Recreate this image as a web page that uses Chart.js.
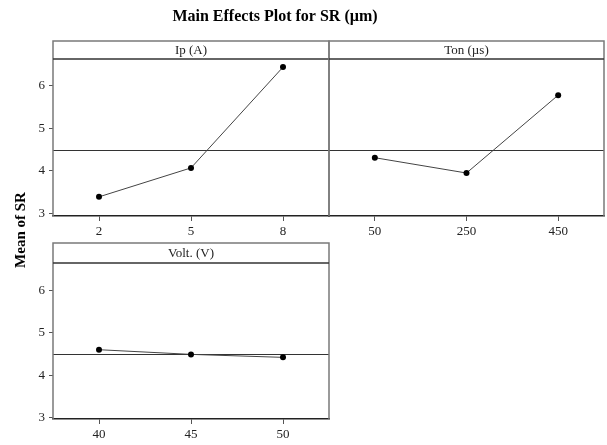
<!DOCTYPE html>
<html><head><meta charset="utf-8">
<script src="https://cdn.jsdelivr.net/npm/chart.js@4.4.1/dist/chart.umd.min.js"></script>
<style>
html,body{margin:0;padding:0;background:#fff;}
#wrap{position:relative;width:607px;height:445px;overflow:hidden;}
#wrap canvas{position:absolute;left:0;top:0;}
</style></head><body>
<div id="wrap">
<canvas id="c1" width="607" height="445"></canvas>
<canvas id="c2" width="607" height="445"></canvas>
<canvas id="c3" width="607" height="445"></canvas>
</div>
<script>
const chartTitle = 'Main Effects Plot for SR (\u00b5m)';
const yAxisLabel = 'Mean of SR';
const factorNames = ['Ip (A)', 'Ton (\u00b5s)', 'Volt. (V)'];
const ipLevels = ['2', '5', '8'];
const tonLevels = ['50', '250', '450'];
const voltLevels = ['40', '45', '50'];
const ipMeans = [3.39, 4.07, 6.44];
const tonMeans = [4.31, 3.95, 5.78];
const voltMeans = [4.60, 4.49, 4.42];
const grandMean = 4.49;
const yTicks = [3, 4, 5, 6];

const SERIF = '"Liberation Serif", "DejaVu Serif", serif';

const panelPlugin = {
  id: 'panel',
  beforeDatasetsDraw(chart) {
    const o = chart.options.plugins.panel;
    const a = chart.chartArea, ctx = chart.ctx;
    const y = Math.round(chart.scales.y.getPixelForValue(o.mean)) + 0.5;
    ctx.save();
    ctx.strokeStyle = '#333';
    ctx.lineWidth = 1;
    ctx.beginPath(); ctx.moveTo(a.left, y); ctx.lineTo(a.right, y); ctx.stroke();
    ctx.restore();
  },
  afterDraw(chart) {
    const o = chart.options.plugins.panel;
    const a = chart.chartArea, ctx = chart.ctx;
    const top = a.top - o.headerH;
    ctx.save();
    // outer box
    ctx.strokeStyle = '#7a7a7a';
    ctx.lineWidth = 1.5;
    ctx.beginPath();
    ctx.moveTo(a.left, a.bottom); ctx.lineTo(a.left, top);
    ctx.lineTo(a.right, top); ctx.lineTo(a.right, a.bottom);
    ctx.stroke();
    // header bottom line
    ctx.strokeStyle = '#333';
    ctx.lineWidth = 1.5;
    ctx.beginPath(); ctx.moveTo(a.left, a.top); ctx.lineTo(a.right, a.top); ctx.stroke();
    // header text
    ctx.fillStyle = '#222';
    ctx.font = '13px ' + SERIF;
    ctx.textAlign = 'center';
    ctx.textBaseline = 'middle';
    ctx.fillText(o.name, (a.left + a.right) / 2, top + o.headerH / 2 + 1);
    if (o.drawTitle) {
      ctx.fillStyle = '#000';
      ctx.font = 'bold 16px ' + SERIF;
      ctx.fillText(chartTitle, 275, 17);
      ctx.translate(21, 230);
      ctx.rotate(-Math.PI / 2);
      ctx.font = 'bold 15px ' + SERIF;
      ctx.fillText(yAxisLabel, 0, 0);
    }
    ctx.restore();
  }
};

function makePanel(id, levels, means, name, cfg) {
  const pts = means.map((v, i) => ({ x: i + 1, y: v }));
  return new Chart(document.getElementById(id), {
    type: 'scatter',
    data: {
      datasets: [{
        data: pts,
        showLine: true,
        borderColor: '#444',
        borderWidth: 1,
        pointRadius: 3,
        pointHoverRadius: 3,
        pointBackgroundColor: '#000',
        pointBorderColor: '#000',
        pointBorderWidth: 0
      }]
    },
    options: {
      responsive: false,
      animation: false,
      devicePixelRatio: 1,
      layout: { padding: cfg.padding },
      plugins: {
        legend: { display: false },
        tooltip: { enabled: false },
        title: { display: false },
        panel: { name: name, headerH: cfg.headerH, mean: grandMean, drawTitle: !!cfg.drawTitle }
      },
      scales: {
        x: {
          type: 'linear',
          min: 0.5, max: 3.5,
          afterBuildTicks: s => { s.ticks = levels.map((l, i) => ({ value: i + 1 })); },
          afterFit: s => { s.height = 20; },
          ticks: {
            callback: (v) => levels[Math.round(v) - 1],
            font: { family: SERIF, size: 13 },
            color: '#222',
            padding: 3,
            maxRotation: 0,
            autoSkip: false
          },
          grid: { drawOnChartArea: false, drawTicks: true, tickLength: 5, color: '#555' },
          border: { display: true, color: '#222', width: 1.5 }
        },
        y: {
          type: 'linear',
          min: cfg.yMin, max: cfg.yMax,
          afterBuildTicks: s => { s.ticks = yTicks.map(v => ({ value: v })); },
          afterFit: s => { s.width = cfg.showY ? 30 : 0; },
          ticks: {
            display: cfg.showY,
            font: { family: SERIF, size: 13 },
            color: '#222',
            padding: 4
          },
          grid: { drawOnChartArea: false, drawTicks: cfg.showY, tickLength: 4, color: '#555' },
          border: { display: false }
        }
      }
    },
    plugins: [panelPlugin]
  });
}

// panel 1: chartArea left 53, right 329, top 59, bottom 216
makePanel('c1', ipLevels, ipMeans, factorNames[0], {
  padding: { left: 23, right: 278, top: 59, bottom: 209 },
  showY: true, yMin: 2.94, yMax: 6.63, headerH: 18, drawTitle: true
});
// panel 2: chartArea left 329, right 604, top 59, bottom 216
makePanel('c2', tonLevels, tonMeans, factorNames[1], {
  padding: { left: 329, right: 3, top: 59, bottom: 209 },
  showY: false, yMin: 2.94, yMax: 6.63, headerH: 18
});
// panel 3: chartArea left 53, right 329, top 263, bottom 419
makePanel('c3', voltLevels, voltMeans, factorNames[2], {
  padding: { left: 23, right: 278, top: 263, bottom: 6 },
  showY: true, yMin: 2.97, yMax: 6.64, headerH: 20
});
</script>
</body></html>
